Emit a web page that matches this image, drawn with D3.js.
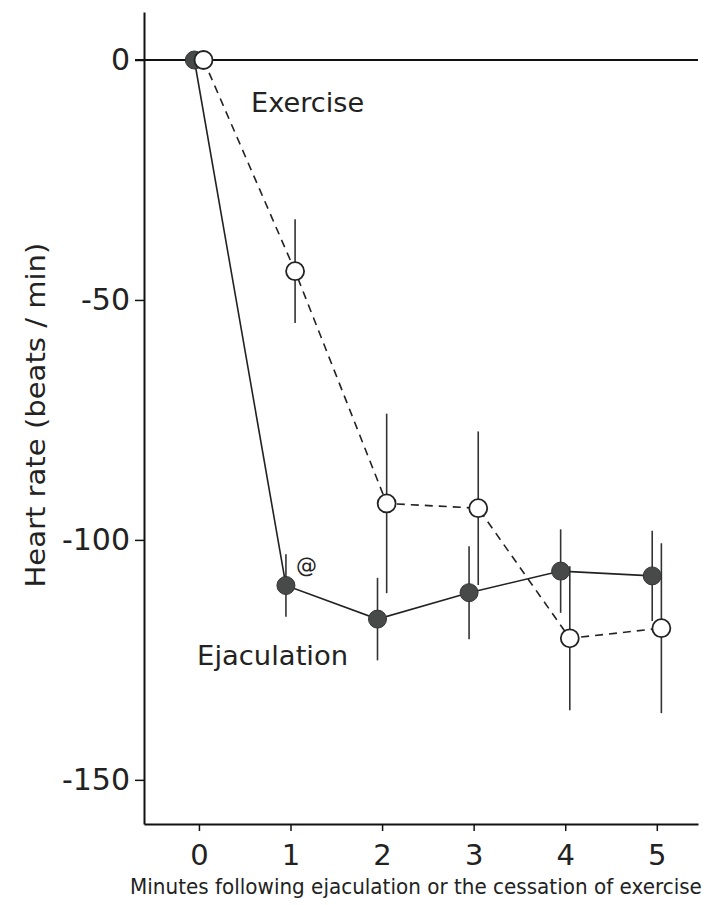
<!DOCTYPE html>
<html>
<head>
<meta charset="utf-8">
<script src="https://cdn.jsdelivr.net/npm/d3@7"></script>
<style>
  body { margin: 0; background: #fff; }
  text { font-family: "DejaVu Sans", Verdana, sans-serif; fill: #222; }
</style>
</head>
<body>
<div id="chart"></div>
<script>
// data
var minutes = [0, 1, 2, 3, 4, 5]
var ejaculation_mean = [0, -109.5, -116.5, -111, -106.5, -107.5]
var ejaculation_err = [0, 6.5, 8.6, 9.7, 8.7, 9.4]
var exercise_mean = [0, -44, -92.4, -93.4, -120.5, -118.4]
var exercise_err = [0, 10.8, 18.7, 16, 15, 17.7]
var y_ticks = [0, -50, -100, -150]

var width = 709,
    height = 905

var svg = d3.select("#chart")
  .append("svg")
  .attr("width", width)
  .attr("height", height)

svg.append("rect")
  .attr("width", width)
  .attr("height", height)
  .attr("fill", "#fff")

var x = d3.scaleLinear()
  .domain([-0.6, 5.45])
  .range([144, 698])

var y = d3.scaleLinear()
  .domain([-159.2, 10])
  .range([824, 12])

// build series, the two groups are drawn a little apart on x
function make_series(means, errs, dodge){
  return minutes.map(function(m, i){
    return {x: m + dodge, y: means[i], e: errs[i]}
  })
}
var ejac = make_series(ejaculation_mean, ejaculation_err, -0.05)
var exer = make_series(exercise_mean, exercise_err, 0.05)

// plain hyphen, like the original figure
var fmt = function(d){return String(d)}

// AXES

var yAxis = d3.axisLeft(y)
  .tickValues(y_ticks)
  .tickSize(9)
  .tickSizeOuter(0)
  .tickPadding(5)
  .tickFormat(fmt)

var gy = svg.append("g")
  .attr("transform", "translate(" + x(-0.6) + ",0)")
  .call(yAxis)
gy.select(".domain").attr("stroke", "#111").attr("stroke-width", 2)
gy.selectAll(".tick line").attr("stroke", "#111").attr("stroke-width", 1.5)
gy.selectAll(".tick text")
  .attr("font-size", 30)
  .attr("fill", "#222")
  .style("font-family", "'DejaVu Sans', sans-serif")

var xAxis = d3.axisBottom(x)
  .tickValues(minutes)
  .tickSize(7)
  .tickSizeOuter(0)
  .tickPadding(13)
  .tickFormat(fmt)

var gx = svg.append("g")
  .attr("transform", "translate(0," + y(-159.2) + ")")
  .call(xAxis)
gx.select(".domain").attr("stroke", "#111").attr("stroke-width", 2)
gx.selectAll(".tick line").attr("stroke", "#111").attr("stroke-width", 1.5)
gx.selectAll(".tick text")
  .attr("font-size", 29)
  .attr("fill", "#222")
  .style("font-family", "'DejaVu Sans', sans-serif")

// zero line
svg.append("line")
  .attr("x1", x(-0.6) - 9)
  .attr("x2", x(5.45))
  .attr("y1", y(0))
  .attr("y2", y(0))
  .attr("stroke", "#111")
  .attr("stroke-width", 2)

// axis titles
svg.append("text")
  .attr("transform", "translate(45," + y(-74) + ") rotate(-90)")
  .attr("text-anchor", "middle")
  .attr("font-size", 26)
  .attr("textLength", 345)
  .attr("lengthAdjust", "spacingAndGlyphs")
  .text("Heart rate (beats / min)")

// x title: condensed face in the original, so squeeze it horizontally
var xtitle = svg.append("text")
  .attr("text-anchor", "middle")
  .attr("font-size", 21)
  .text("Minutes following ejaculation or the cessation of exercise")
var squeeze = 572 / xtitle.node().getComputedTextLength()
xtitle.attr("transform", "translate(416,894) scale(" + squeeze + ",1)")

// ERROR BARS

function draw_errors(data, cls){
  svg.selectAll("." + cls)
    .data(data.filter(function(d){return d.e > 0}))
    .enter()
    .append("line")
    .attr("class", cls)
    .attr("x1", function(d){return x(d.x)})
    .attr("x2", function(d){return x(d.x)})
    .attr("y1", function(d){return y(d.y + d.e)})
    .attr("y2", function(d){return y(d.y - d.e)})
    .attr("stroke", "#333")
    .attr("stroke-width", 1.6)
}
draw_errors(exer, "err-exer")
draw_errors(ejac, "err-ejac")

// LINES

var line = d3.line()
  .x(function(d){return x(d.x)})
  .y(function(d){return y(d.y)})

svg.append("path")
  .datum(exer)
  .attr("d", line)
  .attr("fill", "none")
  .attr("stroke", "#222")
  .attr("stroke-width", 1.6)
  .attr("stroke-dasharray", "8,6")

svg.append("path")
  .datum(ejac)
  .attr("d", line)
  .attr("fill", "none")
  .attr("stroke", "#222")
  .attr("stroke-width", 1.6)

// POINTS

svg.selectAll(".ejac")
  .data(ejac)
  .enter()
  .append("circle")
  .attr("class", "ejac")
  .attr("r", 9)
  .attr("cx", function(d){return x(d.x)})
  .attr("cy", function(d){return y(d.y)})
  .attr("fill", "#474a48")
  .attr("stroke", "#333")
  .attr("stroke-width", 1)

svg.selectAll(".exer")
  .data(exer)
  .enter()
  .append("circle")
  .attr("class", "exer")
  .attr("r", 9)
  .attr("cx", function(d){return x(d.x)})
  .attr("cy", function(d){return y(d.y)})
  .attr("fill", "#fff")
  .attr("stroke", "#222")
  .attr("stroke-width", 1.8)

// LABELS

svg.append("text")
  .attr("x", x(0.57))
  .attr("y", y(-10.8))
  .attr("font-size", 26)
  .attr("textLength", 113)
  .attr("lengthAdjust", "spacingAndGlyphs")
  .text("Exercise")

svg.append("text")
  .attr("x", x(-0.02))
  .attr("y", y(-126))
  .attr("font-size", 27)
  .attr("textLength", 151)
  .attr("lengthAdjust", "spacingAndGlyphs")
  .text("Ejaculation")

svg.append("text")
  .attr("x", x(1.06))
  .attr("y", y(-107))
  .attr("font-size", 21)
  .text("@")
</script>
</body>
</html>
